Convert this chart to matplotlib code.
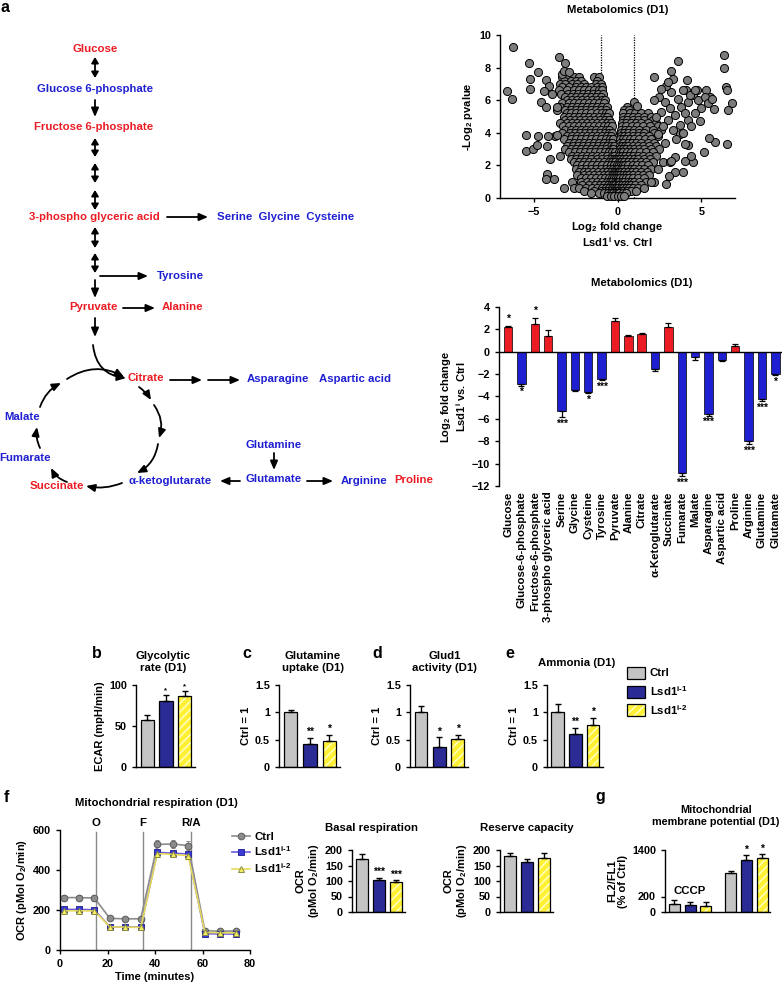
import numpy as np
import matplotlib
matplotlib.use("Agg")
import matplotlib.pyplot as plt
from matplotlib.patches import Rectangle
from matplotlib.lines import Line2D

plt.rcParams['font.family'] = ['Liberation Sans', 'DejaVu Sans']
plt.rcParams['font.weight'] = 'bold'
plt.rcParams['axes.labelweight'] = 'bold'
plt.rcParams['axes.titleweight'] = 'bold'
plt.rcParams['mathtext.fontset'] = 'custom'
plt.rcParams['mathtext.rm'] = 'Liberation Sans:bold'
plt.rcParams['mathtext.it'] = 'Liberation Sans:bold'
plt.rcParams['mathtext.bf'] = 'Liberation Sans:bold'
plt.rcParams['axes.linewidth'] = 1.0
plt.rcParams['xtick.major.width'] = 1.0
plt.rcParams['ytick.major.width'] = 1.0
plt.rcParams['xtick.major.size'] = 3
plt.rcParams['ytick.major.size'] = 3
plt.rcParams['xtick.labelsize'] = 7.8
plt.rcParams['ytick.labelsize'] = 7.8
plt.rcParams['axes.labelsize'] = 8
plt.rcParams['hatch.linewidth'] = 1.2

# ---------------- data ----------------
# volcano plot: rows of points (y level -> x positions)
volcano_rows = {
    7.4: [-3.3, -3.0, -2.6, -2.3, -1.4, -1.1],
    7.2: [-3.2, -2.8, -2.5, -2.15, -1.2],
    7.0: [-3.4, -3.1, -2.7, -2.4, -2.0, -1.3, -1.0],
    6.8: [-3.3, -2.9, -2.45, -2.15, -1.85, -1.55, -1.2, -0.95],
    6.6: [-3.5, -3.0, -2.6, -2.3, -2.0, -1.7, -1.4, -1.1, -0.9],
    6.4: [-3.35, -2.95, -2.65, -2.35, -2.05, -1.75, -1.45, -1.15, -0.85],
    6.2: [-3.1, -2.8, -2.5, -2.2, -1.9, -1.6, -1.3, -1.0],
    6.0: [-3.0, -2.7, -2.4, -2.1, -1.8, -1.5, -1.2, -0.9, -0.75],
    5.8: [-3.3, -2.9, -2.6, -2.3, -2.0, -1.7, -1.4, -1.1, -0.8],
    5.6: [-3.4, -3.0, -2.7, -2.4, -2.1, -1.8, -1.5, -1.2, -0.9, -0.65, 0.55, 1.0],
    5.4: [-3.6, -3.1, -2.8, -2.5, -2.2, -1.9, -1.6, -1.3, -1.0, -0.7, 0.4, 0.7],
    5.2: [-3.0, -2.75, -2.45, -2.15, -1.85, -1.55, -1.25, -0.95, -0.7, -0.5, 0.35, 0.75, 1.05, 1.4, 1.8],
    5.0: [-3.2, -2.9, -2.6, -2.3, -2.0, -1.7, -1.4, -1.1, -0.8, -0.6, 0.3, 0.6, 0.9, 1.2, 1.6, 2.0],
    4.8: [-3.1, -2.85, -2.55, -2.25, -1.95, -1.65, -1.35, -1.05, -0.75, -0.5, 0.3, 0.55, 0.95, 1.25, 1.6, 2.1],
    4.6: [-3.4, -3.0, -2.7, -2.4, -2.1, -1.8, -1.5, -1.2, -0.9, -0.6, -0.4, 0.25, 0.5, 0.8, 1.1, 1.4, 1.8, 2.3],
    4.4: [-3.25, -2.9, -2.6, -2.3, -2.0, -1.7, -1.4, -1.1, -0.8, -0.55, -0.35, 0.25, 0.5, 0.85, 1.15, 1.5, 1.95, 2.4],
    4.2: [-3.1, -2.8, -2.5, -2.2, -1.9, -1.6, -1.3, -1.0, -0.7, -0.5, 0.2, 0.45, 0.7, 1.0, 1.3, 1.7, 2.1, 2.6],
    4.0: [-3.3, -2.85, -2.55, -2.25, -1.95, -1.65, -1.35, -1.05, -0.75, -0.5, -0.3, 0.18, 0.4, 0.6, 0.95, 1.3, 1.6, 2.2],
    3.8: [-3.7, -3.0, -2.7, -2.4, -2.1, -1.8, -1.5, -1.2, -0.9, -0.6, -0.4, 0.2, 0.4, 0.65, 0.9, 1.2, 1.5, 1.9, 2.4],
    3.6: [-3.2, -2.8, -2.5, -2.2, -1.9, -1.6, -1.3, -1.0, -0.7, -0.45, -0.25, 0.15, 0.3, 0.5, 0.75, 1.0, 1.3, 1.65, 2.0],
    3.4: [-2.9, -2.6, -2.3, -2.0, -1.7, -1.4, -1.1, -0.8, -0.5, -0.3, 0.15, 0.35, 0.6, 0.85, 1.1, 1.4, 1.8, 2.2, 2.8],
    3.2: [-3.0, -2.65, -2.35, -2.05, -1.75, -1.45, -1.15, -0.85, -0.6, -0.4, -0.2, 0.12, 0.25, 0.45, 0.65, 0.9, 1.2, 1.5, 1.85, 2.3],
    3.0: [-3.1, -2.8, -2.5, -2.2, -1.9, -1.6, -1.3, -1.0, -0.7, -0.4, -0.25, 0.15, 0.3, 0.5, 0.75, 1.0, 1.3, 1.6, 2.0, 2.5],
    2.8: [-2.9, -2.55, -2.25, -1.95, -1.65, -1.35, -1.05, -0.75, -0.5, -0.3, -0.15, 0.08, 0.2, 0.35, 0.55, 0.8, 1.05, 1.35, 1.7, 2.1],
    2.6: [-3.4, -2.7, -2.4, -2.1, -1.8, -1.5, -1.2, -0.9, -0.6, -0.35, -0.2, 0.1, 0.25, 0.45, 0.7, 0.95, 1.2, 1.5, 1.9, 2.3],
    2.4: [-2.75, -2.45, -2.15, -1.85, -1.55, -1.25, -0.95, -0.65, -0.4, -0.22, -0.08, 0.05, 0.15, 0.3, 0.5, 0.75, 1.0, 1.25, 1.55, 1.95],
    2.2: [-2.6, -2.3, -2.0, -1.7, -1.4, -1.1, -0.8, -0.5, -0.3, -0.15, 0.1, 0.2, 0.4, 0.6, 0.85, 1.1, 1.4, 1.7, 2.1, 2.7],
    2.0: [-2.4, -2.1, -1.8, -1.5, -1.2, -0.9, -0.6, -0.38, -0.2, -0.05, 0.08, 0.18, 0.3, 0.45, 0.65, 0.9, 1.15, 1.45, 1.8],
    1.8: [-2.5, -2.2, -1.9, -1.6, -1.3, -1.0, -0.7, -0.45, -0.25, -0.1, 0.05, 0.2, 0.35, 0.55, 0.8, 1.0, 1.3, 1.6, 2.0],
    1.6: [-2.3, -2.0, -1.75, -1.45, -1.15, -0.85, -0.6, -0.4, -0.22, -0.1, 0.02, 0.1, 0.22, 0.4, 0.6, 0.85, 1.1, 1.4, 1.75],
    1.4: [-2.4, -2.0, -1.7, -1.4, -1.1, -0.8, -0.55, -0.35, -0.2, -0.08, 0.05, 0.15, 0.3, 0.5, 0.7, 0.9, 1.2, 1.5, 1.9],
    1.2: [-2.2, -1.9, -1.6, -1.3, -1.0, -0.75, -0.5, -0.32, -0.18, -0.06, 0.04, 0.15, 0.3, 0.5, 0.7, 0.95, 1.2, 1.55],
    1.0: [-2.7, -2.2, -1.8, -1.5, -1.2, -0.9, -0.65, -0.45, -0.3, -0.15, -0.05, 0.0, 0.1, 0.25, 0.4, 0.6, 0.8, 1.0, 1.3, 1.7, 2.2],
    0.8: [-2.1, -1.7, -1.35, -1.05, -0.8, -0.58, -0.4, -0.25, -0.12, 0.0, 0.1, 0.25, 0.42, 0.6, 0.8, 1.05, 1.4],
    0.6: [-2.6, -2.3, -1.9, -1.5, -1.2, -0.9, -0.7, -0.5, -0.35, -0.2, -0.1, 0.05, 0.2, 0.35, 0.5, 0.7, 0.9, 1.2, 1.6],
    0.45: [-2.0, -1.4, -1.0, -0.75, -0.55, -0.38, -0.22, -0.08, 0.05, 0.18, 0.35, 0.55, 0.8, 1.1],
    0.3: [-1.6, -1.1, -0.8, -0.55, -0.4, -0.25, -0.1, 0.0, 0.1, 0.3, 0.5],
    0.1: [-0.6, -0.4, -0.2, 0.0, 0.2, 0.4],
}
volcano_out_x = [-6.2, -6.56, -6.3, -5.3, -5.2, -5.24, -4.74, -4.56, -4.24, -4.1, -4.4, -3.92, -4.26,
                 -5.46, -5.44, -5.04, -4.8, -4.74, -4.22, -4.12, -4.02, -4.22, -4.24, -3.76, -3.18,
                 -3.5, -3.1, -3.6, -3.6, -3.3, -3.2, -2.9,
                 6.36, 6.32, 6.44, 6.5, 6.82, 6.6, 6.54, 5.8, 5.14, 5.46, 5.74, 5.54, 5.3, 4.74,
                 4.14, 3.58, 3.2, 2.2, 3.3, 4.1, 4.5, 4.0, 3.9, 3.4, 3.06, 2.9, 3.4, 3.1, 4.2, 3.74,
                 1.0, 1.18, 4.4, 3.2, 2.0, 2.4,
                 2.5, 2.8, 3.1, 2.6, 3.4, 3.0, 3.8, 4.2, 4.5, 4.8, 5.0, 4.6, 4.2, 3.7, 4.4, 4.9, 5.2,
                 3.6, 3.2, 2.9, 3.9, 4.3, 2.3, 2.7, 3.3, 3.9, 3.5, 4.0, 2.4, 2.2, 2.6, 3.0, 4.6, 5.4,
                 5.6, 4.0]
volcano_out_y = [9.28, 6.58, 6.05, 8.26, 7.3, 6.66, 7.7, 5.9, 7.23, 6.86, 6.58, 6.37, 5.6,
                 3.85, 2.89, 3.03, 3.24, 3.79, 3.18, 3.79, 2.42, 1.5, 1.15, 1.19, 0.64,
                 8.63, 8.3, 3.85, 5.6, 7.6, 7.8, 7.7,
                 8.77, 7.95, 6.78, 6.62, 5.84, 5.39, 3.34, 3.44, 2.83, 3.7, 5.49, 6.21, 6.62, 6.62,
                 7.23, 8.42, 7.8, 7.4, 7.27, 6.62, 2.21, 2.27, 1.6, 1.6, 1.33, 0.88, 2.52, 2.21, 3.24, 3.95,
                 5.9, 5.66, 2.6, 2.3, 1.0, 1.8,
                 6.2, 5.9, 5.5, 5.3, 5.1, 4.8, 5.6, 5.9, 6.3, 6.0, 5.5, 5.2, 4.8, 4.5, 4.4, 4.7, 6.2,
                 6.1, 6.5, 6.9, 6.6, 6.3, 5.0, 4.4, 4.2, 4.0, 3.6, 3.3, 3.9, 6.0, 6.7, 7.1, 6.6, 5.8,
                 6.1, 5.2]

metabolites = ["Glucose", "Glucose-6-phosphate", "Fructose-6-phosphate", "3-phospho glyceric acid",
               "Serine", "Glycine", "Cysteine", "Tyrosine", "Pyruvate", "Alanine", "Citrate",
               "\u03b1-Ketoglutarate", "Succinate", "Fumarate", "Malate", "Asparagine",
               "Aspartic acid", "Proline", "Arginine", "Glutamine", "Glutamate"]
metab_fc = [2.2, -2.9, 2.45, 1.4, -5.3, -3.45, -3.6, -2.4, 2.75, 1.45, 1.6, -1.5, 2.25,
            -10.8, -0.45, -5.6, -0.75, 0.5, -8.0, -4.2, -2.0]
metab_err = [0.08, 0.12, 0.6, 0.5, 0.55, 0.1, 0.12, 0.1, 0.25, 0.05, 0.1, 0.18, 0.35,
             0.3, 0.3, 0.1, 0.05, 0.2, 0.25, 0.24, 0.1]
metab_sig = ["*", "*", "*", "", "***", "", "*", "***", "", "", "", "", "",
             "***", "", "***", "", "", "***", "***", "*"]

groups = ["Ctrl", "Lsd1$^{i\u20111}$", "Lsd1$^{i\u20112}$"]
ecar_vals = [57, 80, 86]
ecar_err = [7, 8, 7]
ecar_sig = ["", "*", "*"]
gln_vals = [1.0, 0.42, 0.47]
gln_err = [0.04, 0.11, 0.12]
gln_sig = ["", "**", "*"]
glud_vals = [1.0, 0.37, 0.51]
glud_err = [0.11, 0.17, 0.07]
glud_sig = ["", "*", "*"]
amm_vals = [1.0, 0.6, 0.76]
amm_err = [0.15, 0.12, 0.14]
amm_sig = ["", "**", "*"]

ocr_time = [1.5, 8, 14.5, 21, 27.5, 34, 41, 47.5, 54, 61, 67.5, 74]
ocr_ctrl = [262, 262, 260, 158, 156, 156, 528, 530, 522, 96, 94, 95]
ocr_ctrl_err = [14, 14, 14, 8, 8, 8, 22, 22, 22, 10, 10, 10]
ocr_l1 = [203, 203, 201, 116, 115, 114, 488, 484, 480, 82, 80, 80]
ocr_l1_err = [10, 10, 10, 6, 6, 6, 15, 15, 15, 6, 6, 6]
ocr_l2 = [196, 196, 195, 116, 114, 113, 482, 478, 472, 88, 86, 86]
ocr_l2_err = [10, 10, 10, 6, 6, 6, 15, 15, 15, 6, 6, 6]
injection_times = [15, 35, 55]
injection_labels = ["O", "F", "R/A"]

basal_vals = [172, 103, 97]
basal_err = [15, 8, 7]
basal_sig = ["", "***", "***"]
reserve_vals = [182, 160, 175]
reserve_err = [9, 12, 15]

mmp_cccp_vals = [100, 90, 75]
mmp_cccp_err = [60, 45, 50]
mmp_vals = [800, 1150, 1200]
mmp_err = [60, 110, 100]
mmp_sig = ["", "*", "*"]

# ---------------- style ----------------
RED = '#EC1C24'
BLUE = '#1F1FD2'
GRAY = '#C4C4C4'
NAVY = '#2B2B96'
YELLOW = '#FFF033'
STRIPE = '#FFFFB8'
grp_colors = [GRAY, NAVY, YELLOW]
FS = 8.2

W, H = 784, 993
fig = plt.figure(figsize=(W / 100, H / 100), dpi=100)


def pax(l, t, r, b):
    return fig.add_axes([l / W, 1 - b / H, (r - l) / W, (b - t) / H])


def clean(ax):
    ax.spines['top'].set_visible(False)
    ax.spines['right'].set_visible(False)
    ax.patch.set_visible(False)


def group_bars(ax, x, vals, errs, sigs, star_off, star_size=7.5):
    for i, (xi, v, e) in enumerate(zip(x, vals, errs)):
        c = grp_colors[i % 3]
        if i % 3 == 2:
            ax.bar(xi, v, width=0.7, color=YELLOW, hatch='////', edgecolor=STRIPE, linewidth=0, zorder=2)
            ax.bar(xi, v, width=0.7, fill=False, edgecolor='black', linewidth=0.9, zorder=3)
        else:
            ax.bar(xi, v, width=0.7, color=c, edgecolor='black', linewidth=0.9, zorder=2)
    ax.errorbar(x, vals, yerr=[np.zeros(len(vals)), errs], fmt='none', ecolor='black',
                elinewidth=1.0, capsize=2.5, capthick=1.0, zorder=4)
    if sigs is not None:
        for xi, v, e, s in zip(x, vals, errs, sigs):
            if s:
                ax.text(xi, v + e + star_off, s, ha='center', va='bottom', fontsize=star_size)


# ---------------- panel a: volcano ----------------
vx, vy = [], []
for yv, xs in volcano_rows.items():
    vx += xs
    vy += [yv] * len(xs)
vx += volcano_out_x
vy += volcano_out_y

ax = pax(500, 35, 735, 198)
clean(ax)
ax.axvline(-1, ls=(0, (1, 1)), color='black', lw=0.9, zorder=1)
ax.axvline(1, ls=(0, (1, 1)), color='black', lw=0.9, zorder=1)
ax.scatter(vx, vy, s=34, c='#7c7c7c', edgecolors='black', linewidths=0.7, zorder=3, clip_on=False)
ax.set_xlim(-7, 7)
ax.set_ylim(0, 10)
ax.set_xticks([-5, 0, 5])
ax.set_yticks([0, 2, 4, 6, 8, 10])
ax.set_ylabel('-Log$_2$ pvalue', labelpad=3)
ax.set_xlabel('Log$_2$ fold change\nLsd1$^i$ vs. Ctrl', labelpad=2, linespacing=1.1)

# ---------------- panel a: metabolite bars ----------------
ax = pax(499, 307, 782, 486)
clean(ax)
ax.spines['bottom'].set_visible(False)
xm = np.arange(len(metabolites))
fc = np.array(metab_fc)
er = np.array(metab_err)
ax.bar(xm, fc, width=0.63, color=[RED if v > 0 else BLUE for v in fc], edgecolor='black', linewidth=0.5, zorder=2)
ax.errorbar(xm, fc, yerr=[np.where(fc < 0, er, 0), np.where(fc > 0, er, 0)], fmt='none',
            ecolor='black', elinewidth=0.9, capsize=2, capthick=0.9, zorder=3)
ax.axhline(0, color='black', lw=1.0, zorder=4)
for xi, v, e, s in zip(xm, fc, er, metab_sig):
    if s:
        if v > 0:
            ax.text(xi, v + e + 0.2, s, ha='center', va='bottom', fontsize=7.5)
        else:
            ax.text(xi, v - e - 0.15, s, ha='center', va='top', fontsize=7.5)
ax.set_ylim(-12, 4)
ax.set_yticks(np.arange(-12, 5, 2))
ax.set_xlim(-0.68, len(metabolites) - 0.5)
ax.set_xticks(xm)
ax.set_xticklabels(metabolites, rotation=90, fontsize=8.2)
ax.tick_params(axis='x', length=0, pad=4)
ax.set_ylabel('Log$_2$ fold change\nLsd1$^i$ vs. Ctrl', labelpad=3, linespacing=1.1)

# ---------------- panels b-e ----------------
x3 = np.arange(3)
ax = pax(136, 685, 195, 767)
clean(ax)
group_bars(ax, x3, ecar_vals, ecar_err, ecar_sig, 1, star_size=5.5)
ax.set_xlim(-0.6, 2.55)
ax.set_ylim(0, 100)
ax.set_yticks([0, 50, 100])
ax.set_xticks([])
ax.set_ylabel('ECAR (mpH/min)', labelpad=3)

small = [((279, 685, 340, 767), gln_vals, gln_err, gln_sig),
         ((410, 685, 468, 767), glud_vals, glud_err, glud_sig),
         ((547, 685, 603, 767), amm_vals, amm_err, amm_sig)]
for box, v, e, s in small:
    ax = pax(*box)
    clean(ax)
    group_bars(ax, x3, v, e, s, 0.02)
    ax.set_xlim(-0.6, 2.55)
    ax.set_ylim(0, 1.5)
    ax.set_yticks([0, 0.5, 1, 1.5])
    ax.set_yticklabels(['0', '0.5', '1', '1.5'])
    ax.set_xticks([])
    ax.set_ylabel('Ctrl = 1', labelpad=3)

# ---------------- panel f ----------------
ax = pax(60, 830, 250, 950)
clean(ax)
for t in injection_times:
    ax.plot([t, t], [0, 590], color='#8a8a8a', lw=1.0, zorder=1)
for t, lab in zip(injection_times, injection_labels):
    ax.text(t, 612, lab, ha='center', va='bottom', fontsize=FS, clip_on=False)
series = [(ocr_ctrl, ocr_ctrl_err, '#8c8c8c', 'o', '#8c8c8c', '#5a5a5a'),
          (ocr_l1, ocr_l1_err, '#6a5be0', 's', '#3a3ad6', '#2a2a9a'),
          (ocr_l2, ocr_l2_err, '#e6dc5a', '^', '#f4ee60', '#8a8a40')]
handles = []
for (vals, errs, lc, mk, mf, me), lab in zip(series, groups):
    ax.errorbar(ocr_time, vals, yerr=errs, color=lc, lw=1.2, marker=mk, ms=4.8, mfc=mf, mec=me,
                mew=0.7, ecolor='#8a8a8a', elinewidth=0.8, capsize=1.5, zorder=3)
    handles.append(Line2D([0], [0], color=lc, lw=1.2, marker=mk, ms=4.8, mfc=mf, mec=me, mew=0.7))
ax.set_xlim(0, 80)
ax.set_ylim(0, 600)
ax.set_xticks([0, 20, 40, 60, 80])
ax.set_yticks([0, 200, 400, 600])
ax.set_xlabel('Time (minutes)', labelpad=2)
ax.set_ylabel('OCR (pMol O$_2$/min)', labelpad=3)
ax.legend(handles, groups, loc='upper left', bbox_to_anchor=(226 / W, 1 - 826 / H),
          bbox_transform=fig.transFigure, frameon=False, fontsize=FS, handlelength=1.6,
          labelspacing=0.25, borderpad=0, handletextpad=0.4)

# basal / reserve
for box, v, e, s in [((352, 850, 405, 912), basal_vals, basal_err, basal_sig),
                     ((500, 850, 553, 912), reserve_vals, reserve_err, None)]:
    ax = pax(*box)
    clean(ax)
    group_bars(ax, x3, v, e, s, 1)
    ax.set_xlim(-0.6, 2.55)
    ax.set_ylim(0, 200)
    ax.set_yticks([0, 50, 100, 150, 200])
    ax.set_xticks([])
    ax.set_ylabel('OCR\n(pMol O$_2$/min)', labelpad=3, linespacing=1.1)


# ---------------- panel g ----------------
def fwd(y):
    y = np.asarray(y, dtype=float)
    return np.where(y <= 200, y / 200.0, 1 + (y - 200) / 1200.0 * 3)


def inv(u):
    u = np.asarray(u, dtype=float)
    return np.where(u <= 1, u * 200.0, 200 + (u - 1) / 3.0 * 1200.0)


ax = pax(665, 850, 770, 912)
clean(ax)
ax.set_yscale('function', functions=(fwd, inv))
group_bars(ax, np.array([0, 1, 2]), mmp_cccp_vals, mmp_cccp_err, None, 0)
group_bars(ax, np.array([3.6, 4.6, 5.6]), mmp_vals, mmp_err, mmp_sig, 10)
ax.text(1, 225, 'CCCP', ha='center', va='bottom', fontsize=FS)
ax.set_xlim(-0.6, 6.1)
ax.set_ylim(0, 1400)
ax.set_yticks([0, 200, 1400])
ax.set_yticklabels(['0', '200', '1400'])
ax.minorticks_off()
ax.set_xticks([])
ax.set_ylabel('FL2/FL1\n(% of Ctrl)', labelpad=3, linespacing=1.1)

# ---------------- overlay: diagram, titles, panel letters ----------------
ov = fig.add_axes([0, 0, 1, 1])
ov.set_xlim(0, W)
ov.set_ylim(H, 0)
ov.axis('off')


def T(x, y, s, color='black', size=FS, ha='center', va='center'):
    ov.text(x, y, s, color=color, fontsize=size, ha=ha, va=va, fontweight='bold')


def A(x1, y1, x2, y2, style='-|>', rad=0.0, lw=1.3):
    if style == '<|-|>':
        spec = style + ',head_length=0.5,head_width=0.3'
        ms = 7
    else:
        spec = style + ',head_length=0.75,head_width=0.32'
        ms = 7
    ov.annotate('', xy=(x2, y2), xytext=(x1, y1),
                arrowprops=dict(arrowstyle=spec, color='black', lw=lw,
                                shrinkA=0, shrinkB=0, mutation_scale=ms,
                                connectionstyle='arc3,rad=%s' % rad))


# panel letters
for x, y, s in [(5, 8, 'a'), (97, 653, 'b'), (247, 653, 'c'), (377, 653, 'd'), (510, 653, 'e'),
                (6, 797, 'f'), (600, 797, 'g')]:
    T(x, y, s, size=11.5)

# titles
T(618, 10, 'Metabolomics (D1)')
T(642, 283, 'Metabolomics (D1)')
T(163, 662, 'Glycolytic\nrate (D1)')
T(313, 662, 'Glutamine\nuptake (D1)')
T(445, 662, 'Glud1\nactivity (D1)')
T(577, 663, 'Ammonia (D1)')
T(156, 803, 'Mitochondrial respiration (D1)')
T(372, 828, 'Basal respiration')
T(527, 828, 'Reserve capacity')
T(716, 816, 'Mitochondrial\nmembrane potential (D1)', size=7.8)

# legend for b-e
for i, (lab, col) in enumerate(zip(groups, grp_colors)):
    yc = 673 + i * 18.5
    if i == 2:
        ov.add_patch(Rectangle((627, yc - 6), 18, 12, facecolor=YELLOW, hatch='////', edgecolor=STRIPE, lw=0))
        ov.add_patch(Rectangle((627, yc - 6), 18, 12, fill=False, edgecolor='black', lw=0.9))
    else:
        ov.add_patch(Rectangle((627, yc - 6), 18, 12, facecolor=col, edgecolor='black', lw=0.9))
    T(650, yc, lab, ha='left')

# pathway diagram
T(95, 49, 'Glucose', RED)
A(95, 57, 95, 78, '<|-|>')
T(95, 89, 'Glucose 6-phosphate', BLUE)
A(95, 100, 95, 117)
T(94, 127, 'Fructose 6-phosphate', RED)
A(95, 138, 95, 157, '<|-|>')
A(95, 163, 95, 183, '<|-|>')
A(95, 190, 95, 210, '<|-|>')
T(94, 217, '3-phospho glyceric acid', RED)
A(167, 217, 208, 217)
T(217, 217, 'Serine  Glycine  Cysteine', BLUE, ha='left')
A(95, 227, 95, 248, '<|-|>')
A(95, 253, 95, 273, '<|-|>')
A(100, 276, 148, 276)
T(157, 276, 'Tyrosine', BLUE, ha='left')
A(95, 280, 95, 298)
T(93, 307, 'Pyruvate', RED)
A(123, 308, 155, 308)
T(162, 307, 'Alanine', RED, ha='left')
A(95, 318, 95, 337)
A(93, 345, 126, 378, rad=0.4)
T(146, 378, 'Citrate', RED)
A(170, 380, 202, 380)
A(208, 380, 240, 380)
T(247, 379, 'Asparagine', BLUE, ha='left')
T(319, 379, 'Aspartic acid', BLUE, ha='left')
# TCA cycle
A(40, 407, 61, 383, rad=-0.2)
A(67, 379, 124, 377, rad=-0.3)
A(139, 387, 151, 400, rad=-0.1)
A(154, 405, 159, 438, rad=-0.25)
A(158, 444, 137, 473, rad=-0.25)
A(122, 483, 86, 486, rad=-0.15)
A(67, 482, 51, 468, rad=-0.2)
A(40, 448, 37, 427, rad=-0.15)
T(22, 417, 'Malate', BLUE)
T(25, 458, 'Fumarate', BLUE)
T(57, 486, 'Succinate', RED)
T(170, 481, '\u03b1-ketoglutarate', BLUE)
T(274, 445, 'Glutamine', BLUE)
A(274, 453, 274, 470)
T(274, 479, 'Glutamate', BLUE)
A(240, 481, 220, 481)
A(307, 481, 333, 481)
T(341, 481, 'Arginine', BLUE, ha='left')
T(394, 480, 'Proline', RED, ha='left')

fig.savefig('out.png', dpi=100)
